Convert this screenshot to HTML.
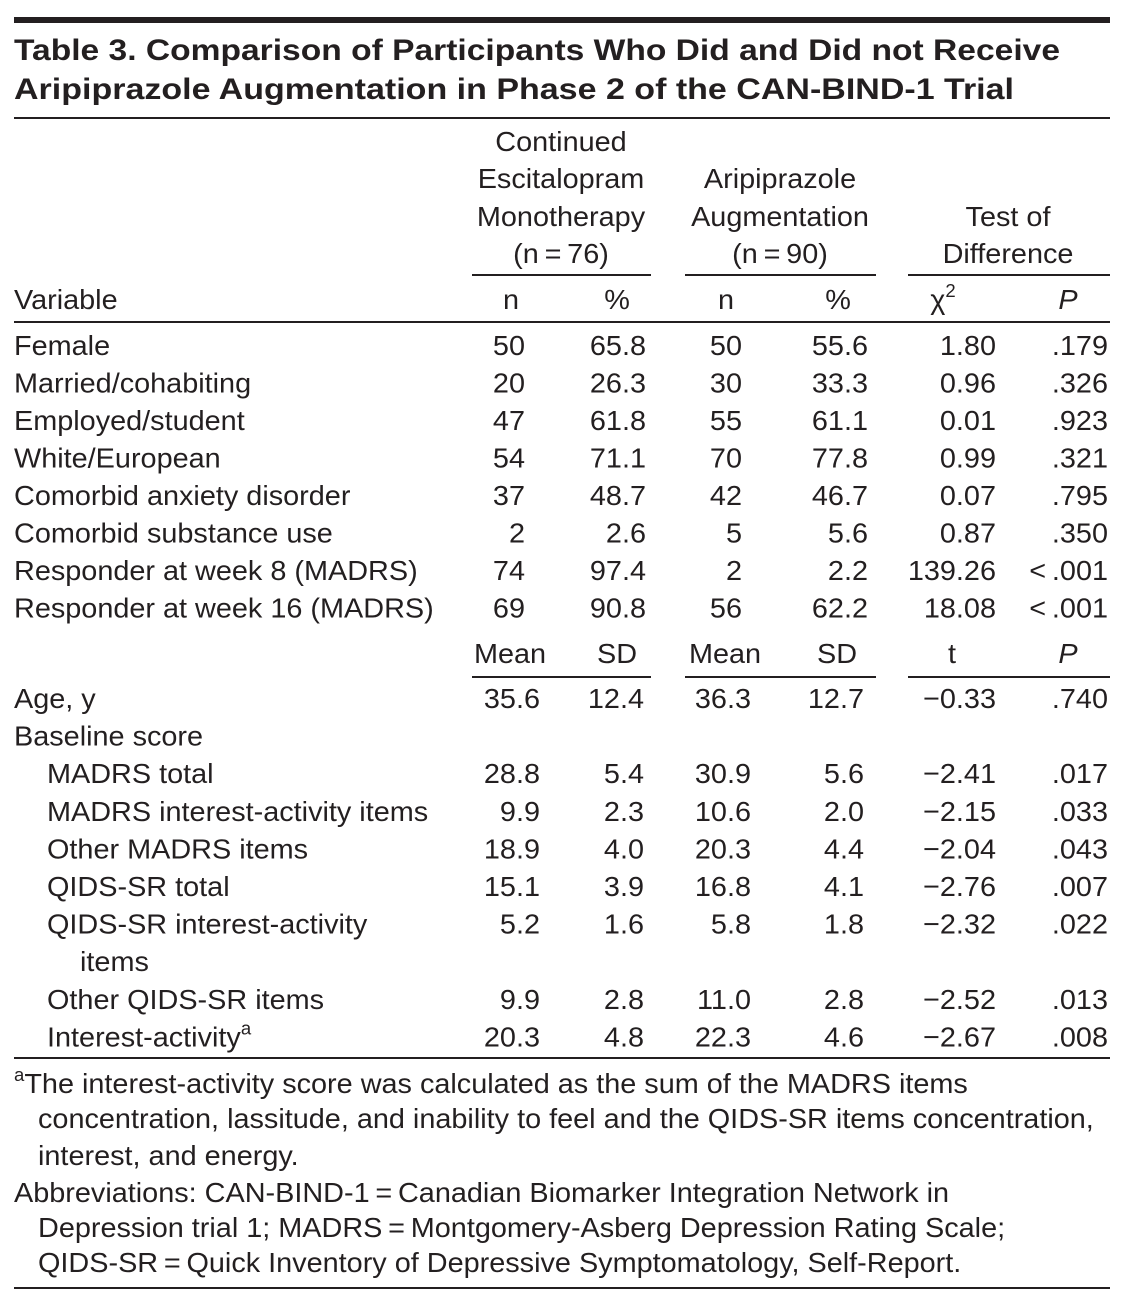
<!DOCTYPE html>
<html><head><meta charset="utf-8"><style>
html,body{margin:0;padding:0;background:#fff;}
svg{display:block;}
text{font-family:"Liberation Sans",sans-serif;fill:#231f20;}
</style></head><body>
<svg id="t" width="1126" height="1316" viewBox="0 0 1126 1316" xmlns="http://www.w3.org/2000/svg">
<rect x="14" y="17" width="1096" height="6" fill="#231f20"/>
<text x="14" y="60" font-size="30" font-weight="600" textLength="1046" lengthAdjust="spacingAndGlyphs">Table 3. Comparison of Participants Who Did and Did not Receive</text>
<text x="14" y="99" font-size="30" font-weight="600" textLength="1000" lengthAdjust="spacingAndGlyphs">Aripiprazole Augmentation in Phase 2 of the CAN-BIND-1 Trial</text>
<rect x="14" y="117" width="1096" height="2" fill="#231f20"/>
<rect x="472" y="274" width="179" height="2" fill="#231f20"/>
<rect x="685" y="274" width="191" height="2" fill="#231f20"/>
<rect x="908" y="274" width="202" height="2" fill="#231f20"/>
<rect x="14" y="321" width="1096" height="2" fill="#231f20"/>
<rect x="472" y="676" width="179" height="2" fill="#231f20"/>
<rect x="685" y="676" width="191" height="2" fill="#231f20"/>
<rect x="908" y="676" width="202" height="2" fill="#231f20"/>
<rect x="14" y="1057" width="1096" height="2" fill="#231f20"/>
<rect x="14" y="1287" width="1096" height="2" fill="#231f20"/>
</svg>
<script>
const svg=document.getElementById('t');
const NS='http://www.w3.org/2000/svg';
function T(x,y,s,anchor,name,italic){
  const g=document.createElementNS(NS,'g');
  g.setAttribute('transform','translate('+x+','+y+') scale(1.03,1)');
  const t=document.createElementNS(NS,'text');
  t.setAttribute('font-size','28');
  t.setAttribute('text-anchor',anchor);
  if(italic)t.setAttribute('font-style','italic');
  t.textContent=s;
  
  
  g.appendChild(t);svg.appendChild(g);return t;
}
const h1=['Continued','Escitalopram','Monotherapy','(n\u2009=\u200976)'];
const h2=['Aripiprazole','Augmentation','(n\u2009=\u200990)'];
const h3=['Test of','Difference'];
const hy=[151,188,226,263];
h1.forEach((s,i)=>T(561,hy[i],s,'middle','group-header-escitalopram'));
h2.forEach((s,i)=>T(780,hy[i+1],s,'middle','group-header-aripiprazole'));
h3.forEach((s,i)=>T(1008,hy[i+2],s,'middle','group-header-test'));
T(14,309,'Variable','start','variable-header');
T(511,309,'n','middle','col-n1');T(617,309,'%','middle','col-pct1');
T(726,309,'n','middle','col-n2');T(838,309,'%','middle','col-pct2');
const chi=T(943,309,'\u03c7','middle','col-chi2');
const sup=document.createElementNS(NS,'tspan');sup.setAttribute('font-size','18');sup.setAttribute('dy','-12');sup.textContent='2';chi.appendChild(sup);
T(1068,309,'P','middle','col-p',true);
const catLabels=['Female','Married/cohabiting','Employed/student','White/European','Comorbid anxiety disorder','Comorbid substance use','Responder at week 8 (MADRS)','Responder at week 16 (MADRS)'];
const catN1=['50','20','47','54','37','2','74','69'];
const catP1=['65.8','26.3','61.8','71.1','48.7','2.6','97.4','90.8'];
const catN2=['50','30','55','70','42','5','2','56'];
const catP2=['55.6','33.3','61.1','77.8','46.7','5.6','2.2','62.2'];
const catChi=['1.80','0.96','0.01','0.99','0.07','0.87','139.26','18.08'];
const catP=['.179','.326','.923','.321','.795','.350','<\u2009.001','<\u2009.001'];
catLabels.forEach((l,i)=>{
  const y=355+i*37.5;
  T(14,y,l,'start','row-label');
  T(525,y,catN1[i],'end','cell-n1');T(646,y,catP1[i],'end','cell-pct1');
  T(742,y,catN2[i],'end','cell-n2');T(868,y,catP2[i],'end','cell-pct2');
  T(996,y,catChi[i],'end','cell-chi2');T(1108,y,catP[i],'end','cell-p');
});
T(510,663,'Mean','middle','col-mean1');T(617,663,'SD','middle','col-sd1');
T(725,663,'Mean','middle','col-mean2');T(837,663,'SD','middle','col-sd2');
T(952,663,'t','middle','col-t');T(1068,663,'P','middle','col-p2',true);
const conLabels=['Age, y','Baseline score','MADRS total','MADRS interest-activity items','Other MADRS items','QIDS-SR total','QIDS-SR interest-activity','items','Other QIDS-SR items','Interest-activity'];
const conIndent=[0,0,1,1,1,1,1,2,1,1];
const conM1=['35.6','','28.8','9.9','18.9','15.1','5.2','','9.9','20.3'];
const conS1=['12.4','','5.4','2.3','4.0','3.9','1.6','','2.8','4.8'];
const conM2=['36.3','','30.9','10.6','20.3','16.8','5.8','','11.0','22.3'];
const conS2=['12.7','','5.6','2.0','4.4','4.1','1.8','','2.8','4.6'];
const conT=['\u22120.33','','\u22122.41','\u22122.15','\u22122.04','\u22122.76','\u22122.32','','\u22122.52','\u22122.67'];
const conP=['.740','','.017','.033','.043','.007','.022','','.013','.008'];
conLabels.forEach((l,i)=>{
  const y=708+i*37.6;
  const t=T(14+[0,33,66][conIndent[i]],y,l,'start','row-label');
  if(i===9){const s=document.createElementNS(NS,'tspan');s.setAttribute('font-size','18');s.setAttribute('dy','-12');s.textContent='a';t.appendChild(s);}
  if(conM1[i]){
    T(540,y,conM1[i],'end','cell-mean1');T(644,y,conS1[i],'end','cell-sd1');
    T(751,y,conM2[i],'end','cell-mean2');T(864,y,conS2[i],'end','cell-sd2');
    T(996,y,conT[i],'end','cell-t');T(1108,y,conP[i],'end','cell-p');
  }
});
const fa=T(14,1093,'','start','footnote-a');
const fs=document.createElementNS(NS,'tspan');fs.setAttribute('font-size','18');fs.setAttribute('dy','-12');fs.textContent='a';fa.appendChild(fs);
const ft=document.createElementNS(NS,'tspan');ft.setAttribute('dy','12');ft.textContent='The interest-activity score was calculated as the sum of the MADRS items';fa.appendChild(ft);
T(38,1128,'concentration, lassitude, and inability to feel and the QIDS-SR items concentration,','start','footnote-a-line2');
T(38,1165,'interest, and energy.','start','footnote-a-line3');
T(14,1202,'Abbreviations: CAN-BIND-1\u2009=\u2009Canadian Biomarker Integration Network in','start','abbreviations-line1');
T(38,1237,'Depression trial 1; MADRS\u2009=\u2009Montgomery-Asberg Depression Rating Scale;','start','abbreviations-line2');
T(38,1272,'QIDS-SR\u2009=\u2009Quick Inventory of Depressive Symptomatology, Self-Report.','start','abbreviations-line3');
</script>
</body></html>
